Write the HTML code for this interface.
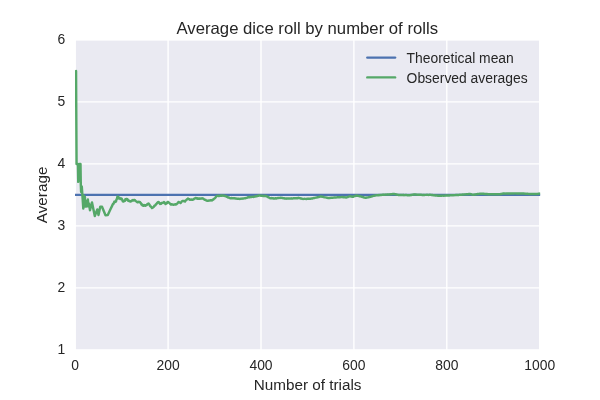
<!DOCTYPE html>
<html><head><meta charset="utf-8"><title>Average dice roll by number of rolls</title>
<style>
html,body{margin:0;padding:0;background:#fff;}
body{width:600px;height:400px;overflow:hidden;}
svg{display:block;font-family:"Liberation Sans",Arial,sans-serif;fill:#262626;}
</style></head><body>
<svg width="600" height="400" viewBox="0 0 600 400">
<rect width="600" height="400" fill="#ffffff"/>
<g transform="translate(0,0)">
<rect x="75.2" y="39.9" width="464.50000000000006" height="310.0" fill="#EAEAF2"/>
<g stroke="#ffffff" stroke-width="1.39" stroke-linecap="round"><line x1="168.10" y1="39.9" x2="168.10" y2="349.9"/><line x1="261.00" y1="39.9" x2="261.00" y2="349.9"/><line x1="353.90" y1="39.9" x2="353.90" y2="349.9"/><line x1="446.80" y1="39.9" x2="446.80" y2="349.9"/><line x1="75.2" y1="287.90" x2="539.7" y2="287.90"/><line x1="75.2" y1="225.90" x2="539.7" y2="225.90"/><line x1="75.2" y1="163.90" x2="539.7" y2="163.90"/><line x1="75.2" y1="101.90" x2="539.7" y2="101.90"/></g>
<rect x="75.2" y="39.9" width="464.50000000000006" height="310.0" fill="none" stroke="#ffffff" stroke-width="1.39"/>
<clipPath id="c"><rect x="75.0" y="39.9" width="465.20000000000005" height="310.0"/></clipPath>
<g clip-path="url(#c)" fill="none" stroke-width="2.43" stroke-linecap="round" stroke-linejoin="round">
<line x1="75.2" y1="194.90" x2="539.7" y2="194.90" stroke="#4C72B0"/>
<polyline points="76.05,70.90 76.55,164.00 77.90,164.00 78.25,181.90 79.60,164.00 80.50,164.00 80.80,185.00 81.10,192.00 81.80,186.50 83.30,208.60 83.90,195.80 84.40,206.50 84.90,197.00 85.40,206.60 85.90,201.20 86.40,206.50 86.90,200.80 87.30,206.30 87.90,199.50 88.40,206.30 88.90,203.50 90.00,210.30 92.00,202.40 94.80,216.00 97.30,209.40 98.50,215.00 100.30,206.60 102.00,206.80 105.50,215.20 107.80,215.00 110.10,210.00 112.46,205.14 112.93,203.93 113.39,203.94 114.00,202.50 114.46,201.51 114.93,202.10 115.39,201.57 116.00,201.50 116.46,199.46 116.93,198.93 117.39,196.87 117.80,196.50 118.26,197.17 118.73,197.36 119.00,198.50 119.46,197.86 119.93,198.38 120.39,199.00 121.00,198.50 121.46,198.49 121.93,199.20 122.39,200.36 122.86,201.38 123.50,201.50 123.96,201.22 124.43,200.58 124.89,201.01 125.36,199.32 125.82,200.06 126.29,198.89 126.50,199.00 126.96,198.89 127.43,199.23 127.89,199.86 128.36,200.90 129.00,201.00 129.46,200.82 130.00,201.50 130.46,201.45 130.93,201.36 131.39,200.88 131.86,200.94 132.32,200.19 132.79,200.04 133.25,200.06 133.72,200.48 134.18,200.02 134.50,200.00 134.96,200.15 135.43,200.84 135.89,201.06 136.36,201.26 137.00,202.00 137.46,202.33 137.93,202.22 138.39,201.72 138.86,202.08 139.32,202.03 139.79,202.40 140.00,202.00 140.46,202.90 140.93,203.08 141.39,204.46 141.86,204.20 142.50,205.50 142.96,205.42 143.43,205.76 143.89,205.15 144.36,205.49 144.82,205.04 145.29,205.67 145.50,205.50 145.96,205.45 146.43,204.95 146.89,204.94 147.36,204.08 147.82,204.14 148.29,203.73 148.50,203.50 148.96,204.17 149.43,204.65 149.89,205.61 150.36,206.30 150.82,206.46 151.29,207.23 151.75,207.28 152.00,208.00 152.46,207.79 152.93,207.36 153.39,207.28 153.86,206.74 154.32,205.87 154.79,205.58 155.00,205.50 155.46,205.18 155.93,204.16 156.39,204.07 156.86,203.36 157.32,202.85 157.79,202.34 158.25,202.47 158.50,202.00 158.96,202.31 159.43,203.03 160.00,204.00 160.46,203.68 160.93,203.84 161.39,202.96 161.86,203.03 162.32,202.88 162.79,202.91 163.25,202.63 163.72,202.43 164.00,202.00 164.46,202.45 164.93,203.17 165.50,204.00 165.96,203.52 166.43,203.55 166.89,203.23 167.36,202.25 168.00,202.00 168.46,202.15 168.93,202.57 169.39,202.96 169.86,203.54 170.32,204.00 170.79,204.15 171.00,204.50 171.46,204.14 171.93,204.44 172.39,204.41 172.86,204.55 173.32,204.82 173.79,204.63 174.25,204.51 174.72,204.58 175.18,204.62 175.65,204.19 176.00,204.50 176.46,204.31 176.93,203.76 177.39,203.36 177.86,202.84 178.50,202.00 178.96,202.16 179.43,202.40 179.89,202.43 180.50,203.00 180.96,202.62 181.43,201.78 181.89,201.32 182.50,201.00 182.96,200.90 183.43,200.97 183.89,201.18 184.36,201.09 185.00,201.50 185.46,200.72 185.93,200.35 186.39,199.86 186.86,199.56 187.32,198.88 187.79,198.94 188.00,198.50 188.46,198.87 188.93,198.89 189.39,199.25 190.00,199.80 190.46,199.67 190.93,199.64 191.39,199.45 191.86,199.85 192.32,199.89 192.79,199.54 193.25,199.51 193.50,199.50 193.96,198.91 194.43,198.57 194.89,198.36 195.50,198.00 195.96,197.97 196.43,198.40 196.89,198.12 197.36,198.15 197.82,198.79 198.29,198.65 198.75,198.54 199.00,198.80 199.46,198.73 199.93,198.35 200.39,198.54 200.86,198.69 201.32,198.54 201.79,198.35 202.00,198.20 202.46,198.31 202.93,198.60 203.39,198.73 203.86,199.30 204.32,199.40 204.79,199.77 205.25,199.77 205.72,199.95 206.18,200.50 206.50,200.50 206.96,200.76 207.43,200.69 207.89,200.66 208.36,200.67 208.82,200.63 209.29,200.36 209.75,200.51 210.22,200.43 210.68,200.26 211.15,200.26 211.61,200.39 212.00,200.50 212.46,199.96 212.93,199.76 213.39,199.48 213.86,198.80 214.32,198.63 214.79,198.24 215.25,197.80 215.72,197.09 216.18,196.60 216.65,196.18 217.00,196.00 217.46,195.81 217.93,195.78 218.39,195.94 218.86,196.04 219.32,195.97 219.79,195.76 220.25,195.80 220.72,195.83 221.18,195.45 221.65,195.69 222.11,195.77 222.57,195.67 223.00,195.50 223.46,195.73 223.93,195.71 224.39,195.68 224.86,196.07 225.32,195.96 225.79,196.29 226.00,196.20 226.46,196.66 226.93,196.63 227.39,196.87 227.86,197.36 228.32,197.50 228.79,197.48 229.25,197.70 229.50,198.00 229.96,197.86 230.43,198.22 230.89,198.20 231.36,197.92 231.82,198.25 232.29,198.34 232.75,198.21 233.22,198.10 233.68,198.21 234.00,198.20 234.46,198.10 234.93,198.11 235.39,198.59 235.86,198.51 236.32,198.52 236.79,198.76 237.25,198.61 237.72,198.85 238.18,198.90 238.65,198.70 239.11,198.78 239.57,198.86 240.00,199.00 240.46,198.81 240.93,198.88 241.39,198.67 241.86,198.66 242.32,198.46 242.79,198.71 243.25,198.40 243.72,198.36 244.18,198.34 244.65,198.39 245.11,198.12 245.57,198.24 246.00,198.00 246.46,197.88 246.93,197.78 247.39,197.66 247.86,197.34 248.32,197.40 248.79,197.18 249.25,196.99 249.72,197.19 250.00,197.00 250.46,196.85 250.93,196.94 251.39,197.02 251.86,196.93 252.32,196.82 252.79,196.87 253.25,196.86 253.72,196.93 254.00,196.80 254.46,196.53 254.93,196.58 255.39,196.34 255.86,196.23 256.32,196.30 256.79,196.08 257.25,195.98 257.72,195.93 258.18,195.87 258.64,195.57 259.00,195.50 259.46,195.58 259.93,195.57 260.39,195.60 260.86,195.71 261.32,195.65 261.79,195.71 262.25,195.72 262.72,195.93 263.18,195.87 263.64,195.97 264.11,196.03 264.57,195.81 265.04,195.95 265.50,196.13 266.00,196.00 266.46,196.39 266.93,196.40 267.39,196.66 267.86,197.04 268.32,197.17 268.79,197.50 269.25,197.70 269.50,198.00 269.96,198.11 270.43,198.20 270.89,198.30 271.36,198.08 271.82,198.33 272.29,198.37 272.75,198.24 273.22,198.55 273.68,198.63 274.00,198.50 274.46,198.36 274.93,198.56 275.39,198.33 275.86,198.31 276.32,198.44 276.79,198.34 277.25,198.06 277.72,198.10 278.18,198.09 278.64,197.98 279.11,197.89 279.57,197.88 280.04,197.97 280.50,197.69 281.00,197.80 281.46,197.90 281.93,197.94 282.39,197.88 282.86,198.07 283.32,198.25 283.79,198.29 284.25,198.22 284.72,198.61 285.00,198.50 285.46,198.60 285.93,198.66 286.39,198.37 286.86,198.42 287.32,198.35 287.79,198.59 288.25,198.42 288.72,198.38 289.18,198.47 289.64,198.63 290.11,198.60 290.57,198.42 291.04,198.39 291.50,198.64 292.00,198.50 292.46,198.49 292.93,198.50 293.39,198.27 293.86,198.23 294.32,198.39 294.79,198.28 295.25,198.13 295.72,198.37 296.18,198.24 296.64,198.26 297.11,198.00 297.57,198.21 298.04,197.93 298.50,198.15 299.00,198.00 299.46,198.10 299.93,198.18 300.39,198.36 300.86,198.60 301.32,198.51 301.79,198.58 302.25,198.82 302.72,198.85 303.00,199.00 303.46,198.87 303.93,198.87 304.39,198.82 304.86,198.86 305.32,198.88 305.79,198.86 306.25,198.99 306.72,198.83 307.18,198.88 307.64,198.77 308.11,198.81 308.57,198.70 309.04,198.75 309.50,198.67 310.00,198.80 310.46,198.78 310.93,198.63 311.39,198.43 311.86,198.42 312.32,198.46 312.79,198.13 313.25,198.24 313.72,198.04 314.18,197.96 314.64,197.97 315.00,197.80 315.46,197.67 315.93,197.60 316.39,197.55 316.86,197.54 317.32,197.25 317.79,197.29 318.25,197.15 318.72,197.03 319.18,196.87 319.64,196.75 320.11,196.57 320.57,196.49 321.00,196.50 321.46,196.48 321.93,196.77 322.39,196.73 322.86,196.80 323.32,196.88 323.79,197.19 324.25,197.30 324.72,197.34 325.18,197.34 325.64,197.42 326.11,197.54 326.57,197.68 327.04,197.70 327.50,197.88 328.00,198.00 328.46,197.91 328.93,198.07 329.39,198.04 329.86,197.90 330.32,197.79 330.79,197.95 331.25,197.74 331.72,197.73 332.18,197.60 332.64,197.68 333.11,197.67 333.57,197.65 334.04,197.54 334.50,197.59 334.97,197.43 335.43,197.47 336.00,197.50 336.46,197.35 336.93,197.40 337.39,197.26 337.86,197.22 338.32,197.25 338.79,197.20 339.25,197.25 339.72,197.20 340.18,197.22 340.64,197.15 341.11,197.13 341.57,197.13 342.00,197.00 342.46,197.03 342.93,197.07 343.39,197.30 343.86,197.14 344.32,197.35 344.79,197.39 345.25,197.29 345.72,197.55 346.00,197.50 346.46,197.45 346.93,197.23 347.39,197.11 347.86,196.98 348.32,196.65 348.79,196.60 349.25,196.44 349.72,196.38 350.00,196.20 350.46,196.37 350.93,196.47 351.39,196.50 351.86,196.67 352.32,196.71 352.79,196.81 353.00,196.80 353.46,196.56 353.93,196.34 354.39,196.19 354.86,196.08 355.32,195.84 355.79,195.85 356.25,195.61 356.50,195.50 356.96,195.63 357.43,195.74 357.89,195.85 358.36,195.91 358.82,195.89 359.29,196.19 359.75,196.28 360.22,196.33 360.68,196.44 361.00,196.50 361.46,196.69 361.93,196.70 362.39,197.01 362.86,197.04 363.32,197.15 363.79,197.35 364.25,197.61 364.72,197.64 365.00,197.80 365.46,197.78 365.93,197.77 366.39,197.58 366.86,197.47 367.32,197.42 367.79,197.40 368.25,197.34 368.72,197.23 369.18,197.16 369.64,196.96 370.00,197.00 370.46,196.78 370.93,196.66 371.39,196.64 371.86,196.40 372.32,196.32 372.79,196.05 373.25,195.92 373.72,195.83 374.18,195.79 374.64,195.65 375.00,195.50 375.46,195.49 375.93,195.36 376.39,195.36 376.86,195.31 377.32,195.26 377.79,195.13 378.25,195.27 378.72,195.06 379.18,195.19 379.64,195.14 380.11,194.88 380.57,194.93 381.04,194.97 381.50,194.96 382.00,194.80 382.46,194.77 382.93,194.70 383.39,194.66 383.86,194.81 384.32,194.62 384.79,194.68 385.25,194.56 385.72,194.62 386.18,194.69 386.64,194.49 387.11,194.62 387.57,194.52 388.00,194.50 388.46,194.55 388.93,194.47 389.39,194.32 389.86,194.43 390.32,194.30 390.79,194.16 391.25,194.12 391.72,194.19 392.18,194.14 392.64,194.07 393.11,194.00 393.57,194.00 394.00,194.00 394.46,194.05 394.93,194.26 395.39,194.17 395.86,194.43 396.32,194.54 396.79,194.48 397.25,194.74 397.72,194.79 398.18,194.92 398.64,194.88 399.00,195.00 399.46,194.98 399.93,194.99 400.39,195.13 400.86,195.05 401.32,195.01 401.79,195.04 402.25,195.01 402.72,194.97 403.18,194.99 403.64,195.16 404.11,195.05 404.57,195.19 405.04,195.06 405.50,195.07 405.97,195.13 406.43,195.07 406.90,195.12 407.36,195.25 407.83,195.24 408.29,195.23 408.75,195.20 409.22,195.27 409.68,195.29 410.00,195.20 410.46,195.13 410.93,195.08 411.39,194.86 411.86,194.92 412.32,194.78 412.79,194.76 413.25,194.66 413.72,194.51 414.00,194.50 414.46,194.43 414.93,194.63 415.39,194.49 415.86,194.59 416.32,194.58 416.79,194.60 417.25,194.71 417.72,194.78 418.18,194.66 418.64,194.76 419.11,194.72 419.57,194.79 420.04,194.78 420.50,194.76 420.97,194.78 421.43,194.81 421.90,194.98 422.36,194.92 422.83,194.89 423.29,195.05 423.75,195.09 424.00,195.00 424.46,194.97 424.93,194.90 425.39,194.89 425.86,194.86 426.32,194.89 426.79,194.83 427.25,194.84 427.72,194.83 428.18,194.87 428.64,194.92 429.11,194.88 429.57,194.80 430.00,194.80 430.46,194.83 430.93,194.91 431.39,194.93 431.86,194.97 432.32,194.97 432.79,195.07 433.25,195.25 433.72,195.14 434.18,195.27 434.64,195.34 435.11,195.44 435.57,195.36 436.04,195.43 436.50,195.47 436.97,195.55 437.43,195.62 437.90,195.76 438.36,195.80 439.00,195.80 439.46,195.85 439.93,195.67 440.39,195.66 440.86,195.77 441.32,195.79 441.79,195.69 442.25,195.69 442.72,195.57 443.18,195.62 443.64,195.71 444.11,195.67 444.57,195.66 445.04,195.66 445.50,195.51 445.97,195.47 446.43,195.46 447.00,195.50 447.46,195.48 447.93,195.49 448.39,195.52 448.86,195.46 449.32,195.42 449.79,195.42 450.25,195.34 450.72,195.34 451.18,195.22 451.64,195.34 452.11,195.22 452.57,195.32 453.04,195.25 453.50,195.17 453.97,195.11 454.43,195.12 454.90,195.17 455.36,195.16 455.83,195.03 456.29,195.00 456.75,195.06 457.22,195.05 457.68,194.99 458.00,195.00 458.46,194.91 458.93,194.94 459.39,194.80 459.86,194.81 460.32,194.80 460.79,194.85 461.25,194.76 461.72,194.76 462.18,194.65 462.64,194.57 463.11,194.53 463.57,194.62 464.04,194.53 464.50,194.42 464.97,194.33 465.43,194.38 465.90,194.37 466.36,194.29 466.83,194.22 467.29,194.26 467.75,194.26 468.22,194.10 468.68,194.03 469.15,194.04 469.61,194.02 470.00,194.00 470.46,194.16 470.93,194.19 471.39,194.42 471.86,194.54 472.32,194.62 472.79,194.69 473.00,194.80 473.46,194.81 473.93,194.63 474.39,194.65 474.86,194.47 475.32,194.40 475.79,194.43 476.25,194.28 476.72,194.32 477.18,194.17 477.64,194.05 478.11,193.99 478.57,193.95 479.04,193.92 479.50,193.90 479.97,193.69 480.43,193.67 481.00,193.60 481.46,193.59 481.93,193.75 482.39,193.65 482.86,193.67 483.32,193.71 483.79,193.80 484.25,193.92 484.72,193.95 485.18,193.96 485.64,194.05 486.11,194.07 486.57,194.00 487.04,194.02 487.50,194.18 487.97,194.18 488.43,194.10 488.90,194.24 489.36,194.23 490.00,194.30 490.46,194.27 490.93,194.26 491.39,194.23 491.86,194.20 492.32,194.24 492.79,194.25 493.25,194.34 493.72,194.20 494.18,194.34 494.64,194.20 495.11,194.23 495.57,194.30 496.04,194.29 496.50,194.22 496.97,194.16 497.43,194.22 497.90,194.20 498.36,194.29 498.83,194.16 499.29,194.18 499.75,194.27 500.00,194.20 500.46,194.03 500.93,194.00 501.39,193.97 501.86,193.87 502.32,193.66 502.79,193.57 503.00,193.60 503.46,193.52 503.93,193.65 504.39,193.54 504.86,193.61 505.32,193.63 505.79,193.53 506.25,193.51 506.72,193.61 507.18,193.55 507.64,193.48 508.11,193.55 508.57,193.48 509.04,193.46 509.50,193.41 509.97,193.52 510.43,193.54 510.90,193.49 511.36,193.53 511.83,193.38 512.29,193.40 512.75,193.43 513.22,193.50 513.68,193.49 514.15,193.40 514.61,193.37 515.00,193.40 515.46,193.40 515.93,193.41 516.39,193.49 516.86,193.38 517.32,193.48 517.79,193.48 518.25,193.50 518.72,193.50 519.18,193.48 519.64,193.44 520.11,193.44 520.57,193.46 521.04,193.53 521.50,193.43 522.00,193.50 522.46,193.48 522.93,193.60 523.39,193.55 523.86,193.55 524.32,193.57 524.79,193.68 525.25,193.68 525.72,193.81 526.18,193.82 526.64,193.87 527.11,193.78 527.57,193.78 528.04,193.82 528.50,193.91 528.97,193.97 529.43,193.96 530.00,194.00 530.46,193.96 530.93,193.99 531.39,194.02 531.86,194.03 532.32,194.04 532.79,194.05 533.25,194.03 533.72,193.94 534.18,194.05 534.64,193.97 535.11,194.01 535.57,193.98 536.04,194.04 536.50,193.95 537.00,194.00 537.46,193.89 537.93,193.82 538.39,193.74 538.86,193.78 539.32,193.67 539.70,193.60" stroke="#55A868"/>
</g>
<g fill="none" stroke-width="2.43" stroke-linecap="round">
<line x1="367.3" y1="57.6" x2="395.1" y2="57.6" stroke="#4C72B0"/>
<line x1="367.3" y1="77.4" x2="395.1" y2="77.4" stroke="#55A868"/>
</g>
<g font-size="13.89px">
<text x="406.6" y="62.7">Theoretical mean</text>
<text x="406.6" y="82.6">Observed averages</text>
<text x="75.20" y="370.2" text-anchor="middle">0</text><text x="168.10" y="370.2" text-anchor="middle">200</text><text x="261.00" y="370.2" text-anchor="middle">400</text><text x="353.90" y="370.2" text-anchor="middle">600</text><text x="446.80" y="370.2" text-anchor="middle">800</text><text x="539.70" y="370.2" text-anchor="middle">1000</text>
<text x="65.3" y="353.70" text-anchor="end">1</text><text x="65.3" y="291.70" text-anchor="end">2</text><text x="65.3" y="229.70" text-anchor="end">3</text><text x="65.3" y="167.70" text-anchor="end">4</text><text x="65.3" y="105.70" text-anchor="end">5</text><text x="65.3" y="43.70" text-anchor="end">6</text>
</g>
<text x="307.3" y="33.5" font-size="16.72px" text-anchor="middle">Average dice roll by number of rolls</text>
<text x="307.6" y="390.3" font-size="15.28px" text-anchor="middle">Number of trials</text>
<text transform="translate(47.3,194.9) rotate(-90)" font-size="15.28px" text-anchor="middle">Average</text>
</g>
</svg>
</body></html>
